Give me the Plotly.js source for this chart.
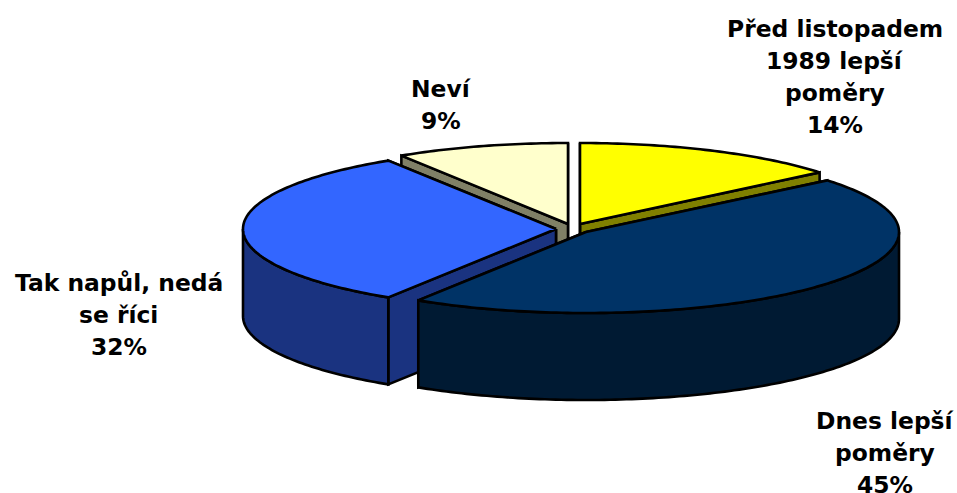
<!DOCTYPE html>
<html>
<head>
<meta charset="utf-8">
<script src="https://cdn.plot.ly/plotly-3.0.0.min.js"></script>
<style>html,body{margin:0;padding:0;background:#fff;overflow:hidden}#chart{width:957px;height:493px}</style>
</head>
<body>
<div id="chart"></div>
<script>
// Data, in pie order clockwise from 12 o'clock
var categories = ["Před listopadem 1989 lepší poměry", "Dnes lepší poměry", "Tak napůl, nedá se říci", "Neví"];
var values = [14, 45, 32, 9];

// Label lines
var labelLines = [
  ["Před listopadem", "1989 lepší", "poměry"],
  ["Dnes lepší", "poměry"],
  ["Tak napůl, nedá", "se říci"],
  ["Neví"]
];

// Style and placement
var topColors = ["#FFFF00", "#003366", "#3366FF", "#FFFFCC"];
var sideColors = ["#808000", "#001A33", "#1A3380", "#808066"];
var tipX = [580, 586, 556, 568];
var tipY = [224, 232, 229, 224];
var radiiX = [311, 313, 313, 311];
var labelX = [835, 885, 118.5, 441];
var labelY = [29, 421, 283, 89];
var drawOrder = [3, 0, 2, 1];
var radiusY = 81, depth = 87, outline = 2.6, lineStep = 32, fontSize = 23.4;

var total = values.reduce(function (a, b) { return a + b; }, 0);
var startAngle = [], sweep = [], acc = 0;
values.forEach(function (v) {
  startAngle.push(acc / total * 360);
  sweep.push(v / total * 360);
  acc += v;
});

function pt(i, deg, dz) {
  var r = deg * Math.PI / 180;
  return [tipX[i] + radiiX[i] * Math.sin(r), tipY[i] - radiusY * Math.cos(r) + (dz || 0)];
}
function arc(i, a0, a1, dz) {
  var out = [], n = Math.max(2, Math.ceil(Math.abs(a1 - a0)));
  for (var k = 0; k <= n; k++) out.push(pt(i, a0 + (a1 - a0) * k / n, dz));
  return out;
}
function shape(points, fill) {
  return {
    type: "scatter", mode: "lines", fill: "toself", fillcolor: fill,
    x: points.map(function (p) { return p[0]; }),
    y: points.map(function (p) { return p[1]; }),
    line: { color: "#000", width: outline, simplify: false },
    hoverinfo: "skip", showlegend: false
  };
}
function radial(i, deg) {
  var e = pt(i, deg, 0), f = pt(i, deg, depth);
  var c0 = [tipX[i], tipY[i]], c1 = [tipX[i], tipY[i] + depth];
  return shape([c0, e, f, c1, c0], sideColors[i]);
}

var traces = [];
drawOrder.forEach(function (i) {
  var a0 = startAngle[i], a1 = a0 + sweep[i];
  traces.push(radial(i, a1));
  traces.push(radial(i, a0));
  var w0 = Math.max(a0, 90), w1 = Math.min(a1, 270);
  if (w1 > w0) {
    var wall = arc(i, w0, w1, 0).concat(arc(i, w1, w0, depth));
    wall.push(wall[0]);
    traces.push(shape(wall, sideColors[i]));
  }
  var top = [[tipX[i], tipY[i]]].concat(arc(i, a0, a1, 0));
  top.push(top[0]);
  traces.push(shape(top, topColors[i]));
});

var annotations = [];
categories.forEach(function (c, i) {
  var lines = labelLines[i].concat([values[i] + "%"]);
  lines.forEach(function (t, k) {
    annotations.push({
      x: labelX[i], y: labelY[i] + k * lineStep, xref: "x", yref: "y",
      text: "<b>" + t + "</b>", showarrow: false,
      xanchor: "center", yanchor: "middle",
      font: { family: "DejaVu Sans, Verdana, sans-serif", size: fontSize, color: "#000" }
    });
  });
});

var hiddenAxis = { visible: false, showgrid: false, zeroline: false, fixedrange: true };
Plotly.newPlot("chart", traces, {
  width: 957, height: 493,
  margin: { l: 0, r: 0, t: 0, b: 0 },
  paper_bgcolor: "#fff", plot_bgcolor: "#fff",
  showlegend: false,
  xaxis: Object.assign({ range: [0, 957] }, hiddenAxis),
  yaxis: Object.assign({ range: [493, 0] }, hiddenAxis),
  annotations: annotations
}, { displayModeBar: false, staticPlot: true });
</script>
</body>
</html>
